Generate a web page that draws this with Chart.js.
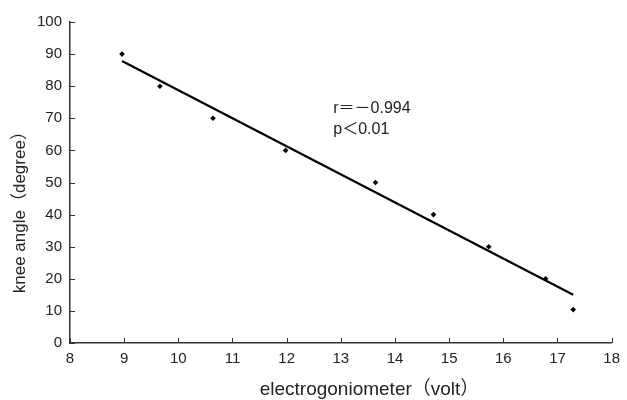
<!DOCTYPE html>
<html>
<head>
<meta charset="utf-8">
<script src="https://cdn.jsdelivr.net/npm/chart.js@4"></script>
<style>
  body { margin: 0; background: #fff; }
  #wrap { width: 627px; height: 400px; }
</style>
</head>
<body>
<div id="wrap"><canvas id="knee"></canvas></div>
<script>
// measured points (volt vs degree)
const volts = [8.96, 9.66, 10.64, 11.98, 13.64, 14.71, 15.73, 16.78, 17.29];
const angles = [90, 80, 70, 60, 50, 40, 30, 20, 10.4];
// regression line end points
const fitVolts = [8.96, 17.29];
const fitAngles = [87.85, 15.05];
const statLines = ['r＝－0.994', 'p＜0.01'];
const yTitle = 'knee angle（degree）';
const xTitle = 'electrogoniometer（volt）';

const FONT = '"Liberation Sans", Arial, "Noto Sans CJK JP", sans-serif';
const ink = '#222';

// inward tick marks, axis titles (off-centre in the original), r/p note
const extras = {
    id: 'extras',
    afterDatasetsDraw(chart) {
        const ctx = chart.ctx;
        const x = chart.scales.x, y = chart.scales.y;
        ctx.save();
        ctx.strokeStyle = '#333';
        ctx.lineWidth = 1;
        for (const t of x.ticks) {
            const px = Math.round(x.getPixelForValue(t.value)) + 0.5;
            ctx.beginPath();
            ctx.moveTo(px, y.bottom);
            ctx.lineTo(px, y.bottom - 5);
            ctx.stroke();
        }
        for (const t of y.ticks) {
            const py = Math.round(y.getPixelForValue(t.value)) + 0.5;
            ctx.beginPath();
            ctx.moveTo(x.left, py);
            ctx.lineTo(x.left + 5, py);
            ctx.stroke();
        }
        ctx.fillStyle = ink;
        ctx.font = '16px ' + FONT;
        ctx.textAlign = 'left';
        ctx.textBaseline = 'middle';
        ctx.fillText(statLines[0], x.getPixelForValue(12.86), y.getPixelForValue(73.0));
        ctx.fillText(statLines[1], x.getPixelForValue(12.86), y.getPixelForValue(66.4));

        ctx.textAlign = 'center';
        ctx.font = '19px ' + FONT;
        ctx.fillText(xTitle, x.getPixelForValue(13.53), 390);

        ctx.font = '17px ' + FONT;
        ctx.translate(20, y.getPixelForValue(42));
        ctx.rotate(-Math.PI / 2);
        ctx.fillText(yTitle, 0, 0);
        ctx.restore();
    }
};

new Chart(document.getElementById('knee'), {
    data: {
        datasets: [{
            type: 'scatter',
            data: volts.map((v, i) => ({ x: v, y: angles[i] })),
            pointStyle: 'rectRot',
            pointRadius: 2.8,
            backgroundColor: '#000',
            borderColor: '#000',
            borderWidth: 0
        }, {
            type: 'line',
            data: fitVolts.map((v, i) => ({ x: v, y: fitAngles[i] })),
            borderColor: '#000',
            borderWidth: 2.2,
            pointRadius: 0,
            fill: false
        }]
    },
    options: {
        responsive: true,
        maintainAspectRatio: false,
        animation: false,
        layout: { padding: { top: 22, right: 10, left: 0, bottom: 0 } },
        plugins: { legend: { display: false }, tooltip: { enabled: false } },
        scales: {
            x: {
                type: 'linear',
                min: 8, max: 18,
                afterFit(s) { s.height = 57; },
                ticks: { stepSize: 1, color: ink, padding: 7, font: { family: FONT, size: 15 } },
                grid: { display: true, drawOnChartArea: false, drawTicks: false },
                border: { color: '#333', width: 1.5 }
            },
            y: {
                type: 'linear',
                min: 0, max: 100,
                afterFit(s) { s.width = 70; },
                ticks: { stepSize: 10, color: ink, padding: 8, font: { family: FONT, size: 15 } },
                grid: { display: true, drawOnChartArea: false, drawTicks: false },
                border: { color: '#333', width: 1.5 }
            }
        }
    },
    plugins: [extras]
});
</script>
</body>
</html>
